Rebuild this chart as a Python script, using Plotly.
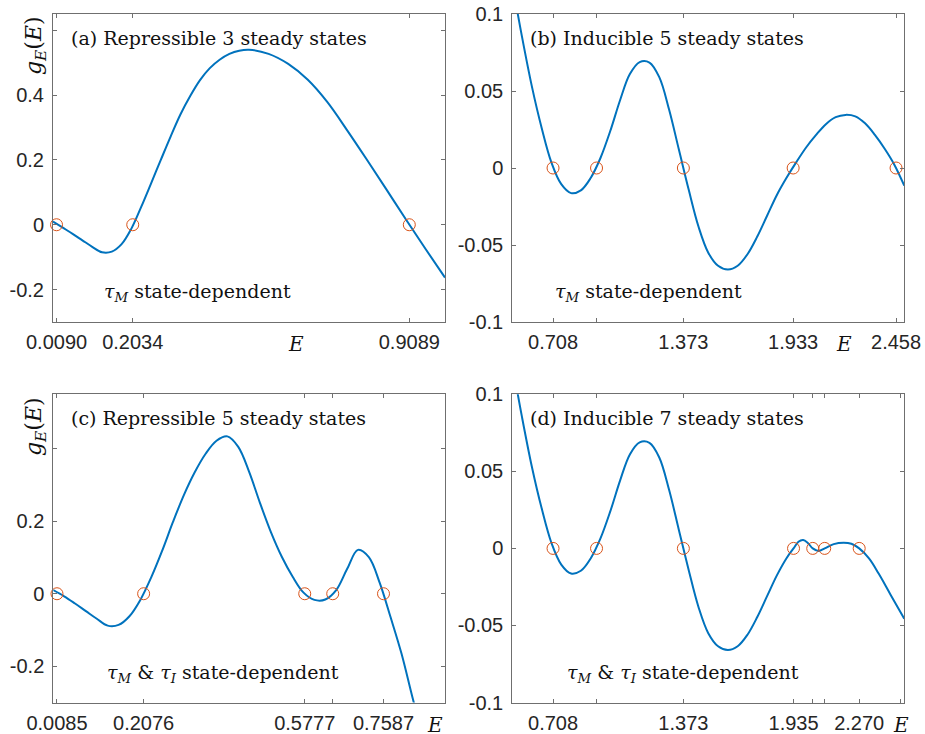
import plotly.graph_objects as go

# ---- panel (a): repressible, 3 steady states ----
a_E = [0.000, 0.025, 0.050, 0.075, 0.100, 0.125, 0.150, 0.175, 0.200, 0.225, 0.250,
       0.275, 0.300, 0.325, 0.350, 0.375, 0.400, 0.425, 0.450, 0.475, 0.500,
       0.550, 0.600, 0.650, 0.700, 0.750, 0.800, 0.850, 0.900, 0.950, 1.000]
a_g = [0.010, -0.009, -0.028, -0.048, -0.068, -0.085, -0.083, -0.060, -0.012, 0.055, 0.127,
       0.200, 0.272, 0.340, 0.397, 0.446, 0.483, 0.509, 0.527, 0.537, 0.540,
       0.527, 0.496, 0.447, 0.378, 0.292, 0.202, 0.110, 0.017, -0.074, -0.163]
a_roots = [0.0090, 0.2034, 0.9089]
a_xtext = ["0.0090", "0.2034", "0.9089"]

# ---- panel (b): inducible, 5 steady states ----
b_E = [0.50, 0.55, 0.60, 0.65, 0.70, 0.75, 0.80, 0.85, 0.90, 0.95, 1.00, 1.05, 1.10,
       1.15, 1.20, 1.25, 1.30, 1.35, 1.40, 1.45, 1.50, 1.55, 1.60, 1.65, 1.70, 1.75,
       1.80, 1.85, 1.90, 1.95, 2.00, 2.05, 2.10, 2.15, 2.20, 2.25, 2.30, 2.35, 2.40,
       2.45, 2.50]
b_g = [0.120, 0.085, 0.053, 0.026, 0.0035, -0.0105, -0.0163, -0.0145, -0.0065, 0.0065,
       0.024, 0.044, 0.061, 0.0688, 0.0685, 0.059, 0.038, 0.012, -0.014, -0.038, -0.055,
       -0.0635, -0.0659, -0.0635, -0.056, -0.0445, -0.031, -0.0175, -0.0062, 0.0040,
       0.0135, 0.0215, 0.0285, 0.0330, 0.0345, 0.0335, 0.0290, 0.0215, 0.0125, 0.0020,
       -0.0115]
b_roots = [0.708, 0.93, 1.373, 1.933, 2.458]
b_xtext = ["0.708", "", "1.373", "1.933", "2.458"]

# ---- panel (c): repressible, 5 steady states ----
c_E = [0.000, 0.025, 0.050, 0.075, 0.100, 0.125, 0.150, 0.175, 0.200, 0.225, 0.250,
       0.275, 0.300, 0.325, 0.350, 0.375, 0.400, 0.425, 0.450, 0.475, 0.500, 0.525,
       0.550, 0.575, 0.600, 0.625, 0.650, 0.675, 0.700, 0.725, 0.750, 0.775, 0.800,
       0.825, 0.850]
c_g = [0.010, -0.007, -0.027, -0.048, -0.069, -0.088, -0.086, -0.062, -0.017, 0.045, 0.118,
       0.198, 0.272, 0.335, 0.386, 0.422, 0.434, 0.405, 0.336, 0.250, 0.170, 0.102,
       0.047, 0.003, -0.017, -0.016, 0.010, 0.068, 0.121, 0.101, 0.030, -0.065, -0.165,
       -0.285, -0.400]
c_roots = [0.0085, 0.2076, 0.5777, 0.642, 0.7587]
c_xtext = ["0.0085", "0.2076", "0.5777", "", "0.7587"]

# ---- panel (d): inducible, 7 steady states ----
d_E = [0.50, 0.55, 0.60, 0.65, 0.70, 0.75, 0.80, 0.85, 0.90, 0.95, 1.00, 1.05, 1.10,
       1.15, 1.20, 1.25, 1.30, 1.35, 1.40, 1.45, 1.50, 1.55, 1.60, 1.65, 1.70, 1.75,
       1.80, 1.85, 1.90, 1.935, 1.96, 1.984, 2.008, 2.033, 2.063, 2.094, 2.14, 2.191,
       2.23, 2.27, 2.32, 2.37, 2.43, 2.50]
d_g = [0.120, 0.085, 0.053, 0.026, 0.0035, -0.0105, -0.0163, -0.0145, -0.0065, 0.0065,
       0.024, 0.044, 0.061, 0.0688, 0.0685, 0.059, 0.038, 0.012, -0.014, -0.038, -0.055,
       -0.0635, -0.0659, -0.0635, -0.056, -0.0445, -0.031, -0.0175, -0.0062, 0.0, 0.0043,
       0.0054, 0.0035, 0.0, -0.0017, 0.0, 0.0028, 0.0037, 0.0030, 0.0, -0.0065, -0.0165,
       -0.030, -0.0456]
d_roots = [0.708, 0.93, 1.373, 1.935, 2.033, 2.094, 2.270]
d_xtext = ["0.708", "", "1.373", "1.935", "", "", "2.270"]

panels = [
    dict(E=a_E, g=a_g, roots=a_roots, xtext=a_xtext, xr=[0, 1], yr=[-0.3, 0.65],
         ytv=[-0.2, 0, 0.2, 0.4, 0.6], ytt=["-0.2", "0", "0.2", "0.4", ""],
         dx=[0.0573, 0.4811], dy=[0.5613, 0.9809]),
    dict(E=b_E, g=b_g, roots=b_roots, xtext=b_xtext, xr=[0.5, 2.5], yr=[-0.1, 0.1],
         ytv=[-0.1, -0.05, 0, 0.05, 0.1], ytt=["-0.1", "-0.05", "0", "0.05", "0.1"],
         dx=[0.5538, 0.9776], dy=[0.5613, 0.9809]),
    dict(E=c_E, g=c_g, roots=c_roots, xtext=c_xtext, xr=[0, 0.9], yr=[-0.3, 0.55],
         ytv=[-0.2, 0, 0.2, 0.4], ytt=["-0.2", "0", "0.2", ""],
         dx=[0.0576, 0.4811], dy=[0.0429, 0.4628]),
    dict(E=d_E, g=d_g, roots=d_roots, xtext=d_xtext, xr=[0.5, 2.5], yr=[-0.1, 0.1],
         ytv=[-0.1, -0.05, 0, 0.05, 0.1], ytt=["-0.1", "-0.05", "0", "0.05", "0.1"],
         dx=[0.5538, 0.9776], dy=[0.0429, 0.4628]),
]

titles = ["(a) Repressible 3 steady states", "(b) Inducible 5 steady states",
          "(c) Repressible 5 steady states", "(d) Inducible 7 steady states"]
notes = ["<i>τ</i><sub><i>M</i></sub> state-dependent",
         "<i>τ</i><sub><i>M</i></sub> state-dependent",
         "<i>τ</i><sub><i>M</i></sub> &amp; <i>τ</i><sub><i>I</i></sub> state-dependent",
         "<i>τ</i><sub><i>M</i></sub> &amp; <i>τ</i><sub><i>I</i></sub> state-dependent"]
e_label_x = [0.62, 2.19, 0.876, 2.482]

W, H = 925, 734
BLUE = "#0072BD"
ORANGE = "#D95319"
AXC = "#6f6f6f"
TICKF = dict(family="Liberation Sans, Arial, sans-serif", size=20, color="#262626")
SERIF = "DejaVu Serif, serif"


def split_ticks(vals, texts):
    """Labelled values become major ticks, unlabelled ones plain minor tick marks."""
    major = [(v, t) for v, t in zip(vals, texts) if t]
    minor = [v for v, t in zip(vals, texts) if not t]
    return [v for v, _ in major], [t for _, t in major], minor


fig = go.Figure()
layout = dict(width=W, height=H, margin=dict(l=0, r=0, t=0, b=0),
              paper_bgcolor="white", plot_bgcolor="white", showlegend=False)
annotations = []

for i, p in enumerate(panels):
    k = "" if i == 0 else str(i + 1)
    xa, ya = "x" + k, "y" + k
    fig.add_trace(go.Scatter(x=p["E"], y=p["g"], mode="lines", xaxis=xa, yaxis=ya,
                             line=dict(color=BLUE, width=2, shape="spline", smoothing=1.0),
                             hoverinfo="skip"))
    fig.add_trace(go.Scatter(x=p["roots"], y=[0] * len(p["roots"]), mode="markers",
                             xaxis=xa, yaxis=ya, cliponaxis=False,
                             marker=dict(symbol="circle-open", size=12, color=ORANGE,
                                         line=dict(width=1, color=ORANGE))))
    common = dict(showline=True, linecolor=AXC, linewidth=1, mirror="allticks",
                  ticks="inside", ticklen=4, tickcolor=AXC, tickwidth=1,
                  showgrid=False, zeroline=False, tickfont=TICKF, automargin=False)
    xv, xt, xm = split_ticks(p["roots"], p["xtext"])
    if i == 3:
        xm = xm + [e_label_x[i]]
    yv, yt, ym = split_ticks(p["ytv"], p["ytt"])
    minor_style = dict(ticks="inside", ticklen=4, tickcolor=AXC, tickwidth=1,
                       showgrid=False, tickmode="array")
    layout["xaxis" + k] = dict(domain=p["dx"], range=p["xr"], anchor=ya,
                               tickmode="array", tickvals=xv, ticktext=xt,
                               minor=dict(tickvals=xm, **minor_style),
                               ticklabelstandoff=2, **common)
    layout["yaxis" + k] = dict(domain=p["dy"], range=p["yr"], anchor=xa,
                               tickmode="array", tickvals=yv, ticktext=yt,
                               minor=dict(tickvals=ym, **minor_style),
                               ticklabelstandoff=4, **common)

    x0, x1 = p["dx"]
    y0, y1 = p["dy"]
    # panel heading (top-left, inside the frame)
    annotations.append(dict(x=x0 + 16 / W, y=y1 - 24 / H, xref="paper", yref="paper",
                            xanchor="left", yanchor="middle", showarrow=False,
                            text=titles[i], font=dict(family=SERIF, size=19, color="#111")))
    # delay dependence note (bottom-left)
    nx = [101.7, 553.3, 105, 565][i] / W
    ny = 1 - [292, 292, 673, 673][i] / H
    annotations.append(dict(x=nx, y=ny, xref="paper", yref="paper",
                            xanchor="left", yanchor="middle", showarrow=False,
                            text=notes[i], font=dict(family=SERIF, size=19, color="#111")))
    # E label on the horizontal axis
    annotations.append(dict(x=e_label_x[i], y=y0 - 22 / H, xref=xa, yref="paper",
                            xanchor="center", yanchor="middle", showarrow=False,
                            text="<i>E</i>", font=dict(family=SERIF, size=20, color="#111")))

# vertical axis titles on the left column
for yc in [46, 427]:
    annotations.append(dict(x=35 / W, y=1 - yc / H, xref="paper", yref="paper",
                            xanchor="center", yanchor="middle", showarrow=False, textangle=-90,
                            text="<i>g</i><sub><i>E</i></sub>(<i>E</i>)",
                            font=dict(family=SERIF, size=22, color="#111")))

layout["annotations"] = annotations
fig.update_layout(**layout)
fig.write_html("out.html")
